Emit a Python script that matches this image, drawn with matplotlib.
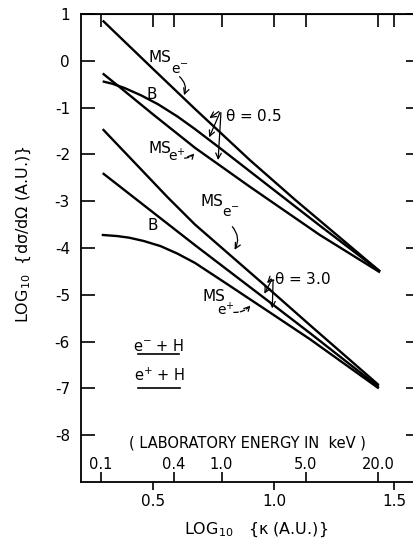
import matplotlib
matplotlib.use("Agg")
import matplotlib.pyplot as plt
import numpy as np

plt.rcParams["font.family"] = "DejaVu Sans"
plt.rcParams["axes.unicode_minus"] = False
plt.rcParams["mathtext.default"] = "regular"

# log10(kappa) samples, theta = 0.5
x_mse_05 = [0.29, 0.50, 0.673, 0.90, 1.088, 1.44]
y_mse_05 = [0.86, -0.18, -1.03, -2.12, -2.97, -4.50]
x_b_05 = [0.29, 0.33, 0.38, 0.45, 0.52, 0.60, 0.673, 0.78, 0.90, 1.05, 1.19, 1.44]
y_b_05 = [-0.44, -0.49, -0.58, -0.74, -0.93, -1.19, -1.46, -1.88, -2.36, -2.96, -3.52, -4.50]
x_msp_05 = [0.29, 0.36, 0.50, 0.673, 0.90, 1.19, 1.44]
y_msp_05 = [-0.27, -0.56, -1.15, -1.86, -2.69, -3.72, -4.52]

# theta = 3.0
x_mse_3 = [0.29, 0.56, 0.673, 0.963, 1.15, 1.435]
y_mse_3 = [-1.46, -2.92, -3.50, -4.80, -5.65, -6.93]
x_b_3 = [0.29, 0.673, 0.963, 1.15, 1.435]
y_b_3 = [-2.40, -3.94, -5.08, -5.82, -6.97]
x_msp_3 = [0.286, 0.35, 0.40, 0.46, 0.53, 0.60, 0.673, 0.80, 0.99, 1.15, 1.435]
y_msp_3 = [-3.72, -3.745, -3.78, -3.85, -3.96, -4.12, -4.32, -4.75, -5.40, -5.95, -7.00]

# laboratory energy scale (keV)
lab_kev = [0.1, 0.4, 1.0, 5.0, 20.0]
lab_labels = ["0.1", "0.4", "1.0", "5.0", "20.0"]
KEV_OFFSET = 0.783


def kev_to_logk(e):
    e = np.clip(np.asarray(e, dtype=float), 1e-12, None)
    return 0.5 * np.log10(e) + KEV_OFFSET


def logk_to_kev(x):
    return 10 ** (2 * (np.asarray(x, dtype=float) - KEV_OFFSET))


fig = plt.figure(figsize=(4.14, 5.46), dpi=100)
ax = fig.add_axes([81 / 414, 64 / 546, 339.5 / 414, 468 / 546])

for xs, ys in [(x_mse_05, y_mse_05), (x_b_05, y_b_05), (x_msp_05, y_msp_05),
               (x_mse_3, y_mse_3), (x_b_3, y_b_3), (x_msp_3, y_msp_3)]:
    ax.plot(xs, ys, color="black", lw=1.7, solid_capstyle="butt")

ax.set_xlim(0.2, 1.608)
ax.set_ylim(-9, 1)
for s in ax.spines.values():
    s.set_linewidth(1.3)

ax.set_xticks([0.5, 1.0, 1.5])
ax.set_xticklabels(["0.5", "1.0", "1.5"])
ax.set_yticks(range(-8, 2))
ax.set_yticklabels([str(v) for v in range(-8, 2)])
ax.tick_params(axis="x", direction="out", length=6, width=1.2, labelsize=11, pad=3)
ax.tick_params(axis="y", direction="in", length=10, width=1.2, labelsize=11,
               right=True, pad=8)

# top ticks: both scales, pointing inwards
top = ax.secondary_xaxis("top")
top.set_xticks([0.5, 1.0, 1.5] + list(kev_to_logk(lab_kev)))
top.tick_params(direction="in", length=9, width=1.2, labeltop=False)

# laboratory energy scale drawn inside, above the bottom spine
lab = ax.secondary_xaxis(0.0, functions=(logk_to_kev, kev_to_logk))
lab.xaxis.set_ticks_position("top")
lab.set_xticks(lab_kev)
lab.set_xticklabels(lab_labels)
lab.tick_params(direction="out", length=7, width=1.2, labelsize=10.5, pad=0)
for s in lab.spines.values():
    s.set_visible(False)

ax.text(0.889, -8.17, "( LABORATORY ENERGY IN  keV )", ha="center", va="center",
        fontsize=10.5)

ax.set_xlabel(r"LOG$_{10}$   {$\kappa$ (A.U.)}", fontsize=11.5)
ax.xaxis.set_label_coords(0.515, -0.083)
ax.set_ylabel(r"LOG$_{10}$  {d$\sigma$/d$\Omega$ (A.U.)}", fontsize=11.5)
ax.yaxis.set_label_coords(-0.14, 0.53)

fs = 11
sub = 10
# theta = 0.5 labels
ax.text(0.478, 0.08, "MS", fontsize=fs, va="center")
ax.text(0.574, -0.20, r"e$^{-}$", fontsize=sub, va="center")
ax.text(0.495, -0.73, "B", fontsize=fs, ha="center", va="center")
ax.text(0.478, -1.88, "MS", fontsize=fs, va="center")
ax.text(0.561, -2.03, r"e$^{+}$", fontsize=sub, va="center")
ax.text(0.797, -1.18, r"$\theta$ = 0.5", fontsize=fs, va="center")
# theta = 3.0 labels
ax.text(0.694, -3.00, "MS", fontsize=fs, va="center")
ax.text(0.786, -3.25, r"e$^{-}$", fontsize=sub, va="center")
ax.text(0.499, -3.51, "B", fontsize=fs, ha="center", va="center")
ax.text(0.702, -5.03, "MS", fontsize=fs, va="center")
ax.text(0.764, -5.32, r"e$^{+}$", fontsize=sub, va="center")
ax.text(1.0, -4.66, r"$\theta$ = 3.0", fontsize=fs, va="center")

arrow = dict(arrowstyle="->", color="black", lw=0.9)
ax.annotate("", xy=(0.623, -0.79), xytext=(0.60, -0.30),
            arrowprops=dict(arrow, connectionstyle="arc3,rad=-0.4"))
ax.annotate("", xy=(0.677, -1.93), xytext=(0.618, -2.08),
            arrowprops=dict(arrow, connectionstyle="arc3,rad=0.3", linestyle="--"))
for end in [(0.723, -1.26), (0.727, -1.69), (0.768, -2.18)]:
    ax.annotate("", xy=end, xytext=(0.781, -1.05), arrowprops=arrow)

ax.annotate("", xy=(0.831, -4.09), xytext=(0.820, -3.50),
            arrowprops=dict(arrow, connectionstyle="arc3,rad=-0.4"))
ax.annotate("", xy=(0.91, -5.18), xytext=(0.822, -5.37),
            arrowprops=dict(arrow, connectionstyle="arc3,rad=0.3", linestyle="--"))
for end in [(0.963, -4.79), (0.955, -5.03), (0.993, -5.35)]:
    ax.annotate("", xy=end, xytext=(0.997, -4.62), arrowprops=arrow)

# reaction legend
ax.text(0.522, -6.09, r"e$^{-}$ + H", fontsize=10.5, ha="center", va="center")
ax.plot([0.437, 0.607], [-6.26, -6.26], color="black", lw=1.2)
ax.text(0.524, -6.73, r"e$^{+}$ + H", fontsize=10.5, ha="center", va="center")
ax.plot([0.437, 0.611], [-6.99, -6.99], color="black", lw=1.2)

fig.savefig("out.png", dpi=100)
